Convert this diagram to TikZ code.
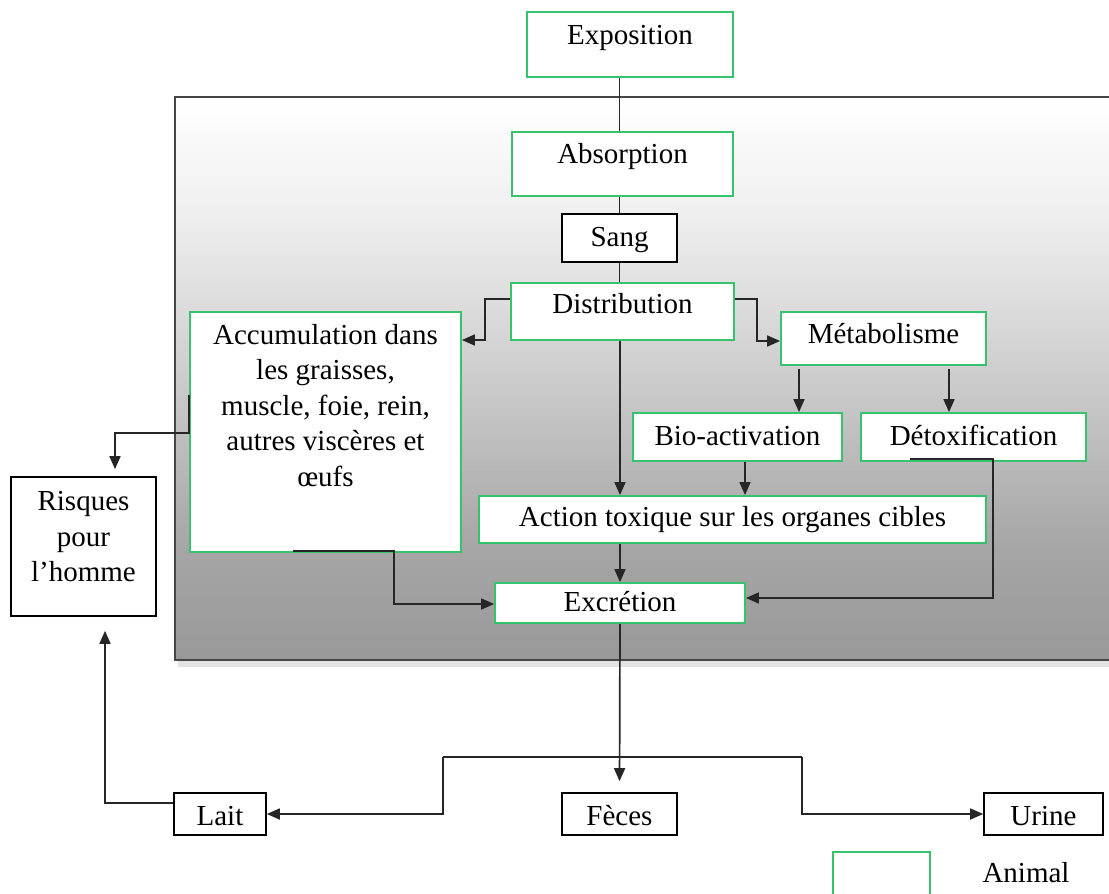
\documentclass[tikz,border=0pt]{standalone}
\usepackage{fontspec}
\setmainfont{Liberation Serif}
\usetikzlibrary{arrows.meta}
\definecolor{bgreen}{RGB}{55,195,110}
\pgfdeclareverticalshading{bgshade}{100bp}{color(0bp)=(gray!80); color(25bp)=(gray!80); color(35bp)=(gray!70); color(55bp)=(gray!30); color(65bp)=(gray!12); color(75bp)=(white); color(100bp)=(white)}
\begin{document}
\begin{tikzpicture}[x=1pt,y=-1pt,
  every node/.style={font=\fontsize{29}{35.5}\selectfont, inner sep=0pt},
  gbox/.style={draw=bgreen, line width=1.8pt, fill=white},
  kbox/.style={draw=black, line width=1.6pt, fill=white},
  ln/.style={draw=black!85, line width=1.7pt},
  arr/.style={-{Triangle[length=13pt,width=11pt]}},
  tb/.style 2 args={text height=#1pt, text depth=#2pt},
]
\useasboundingbox (0,0) rectangle (1109,894);
\clip (0,0) rectangle (1109,894);

% background panel
\fill[gray!22] (178,660) rectangle (1115,667);
\shade[shading=bgshade] (175,97) rectangle (1115,660);
\draw[gray!55!black, line width=1.7pt] (175,97) rectangle (1115,660);

% nodes
\node[gbox, minimum width=206pt, tb={33}{32}] (expo) at (630,44.5) {Exposition};
\node[gbox, minimum width=221pt, tb={31}{33}] (absb) at (622.5,164) {Absorption};
\node[kbox, minimum width=115pt, tb={32}{16}] (sang) at (619.5,238) {Sang};
\node[gbox, minimum width=223pt, tb={30}{27}] (dist) at (622.5,311.5) {Distribution};
\node[gbox, minimum width=205pt, tb={31}{22}] (meta) at (883.5,338.5) {Métabolisme};
\node[gbox, minimum width=209pt, tb={32}{16}] (bio) at (737.5,437) {Bio-activation};
\node[gbox, minimum width=225pt, tb={32}{16}] (detox) at (973.5,437) {Détoxification};
\node[gbox, minimum width=507pt, tb={30}{17}] (act) at (732.5,519.5) {Action toxique sur les organes cibles};
\node[gbox, minimum width=250pt, tb={28}{12}] (exc) at (620,603) {Excrétion};
\node[gbox, minimum width=271pt, minimum height=240pt] (acc) at (325.5,432) {};
\node[anchor=north, align=center] (accT) at (325.5,324) {Accumulation dans\\les graisses,\\muscle, foie, rein,\\autres viscères et\\œufs};
\node[kbox, minimum width=145pt, minimum height=139pt] (risk) at (83.5,546.5) {};
\node[anchor=north, align=center] (riskT) at (83.5,491.5) {Risques\\pour\\l’homme};
\node[kbox, minimum width=92pt, tb={32}{10}] (lait) at (220,814) {Lait};
\node[kbox, minimum width=115pt, tb={32}{10}] (feces) at (619.5,814) {Fèces};
\node[kbox, minimum width=119pt, tb={32}{10}] (urine) at (1043.5,814) {Urine};
\node[gbox, minimum width=97pt, minimum height=50pt] (leg) at (881.5,877) {};
\node[anchor=base] (legT) at (1026,882) {Animal};

% bend coordinates
\coordinate (dl1) at (485,299);
\coordinate (dl2) at (485,340);
\coordinate (dr1) at (757,299);
\coordinate (dr2) at (757,341);
\coordinate (mb) at (799,369);
\coordinate (md) at (949,369);
\coordinate (ba) at (745,459);
\coordinate (dx1) at (910,459);
\coordinate (dx2) at (993,459);
\coordinate (dx3) at (993,598);
\coordinate (ae1) at (293,551);
\coordinate (ae2) at (394,551);
\coordinate (ae3) at (394,604);
\coordinate (ar1) at (189,395);
\coordinate (ar2) at (189,433);
\coordinate (ar3) at (115,433);
\coordinate (br1) at (443,757);
\coordinate (br2) at (802,757);
\coordinate (lr1) at (105,803);

% connectors
\draw[ln] (expo.south -| sang.north) -- (absb.north -| sang.north);
\draw[ln] (absb.south -| sang.north) -- (sang.north);
\draw[ln] (sang.south) -- (dist.north -| sang.south);
\draw[ln,arr] (dist.south -| exc.north) -- (act.north -| exc.north);
\draw[ln,arr] (act.south -| exc.north) -- (exc.north);
\draw[ln,arr] (dist.west |- dl1) -- (dl1) -- (dl2) -- (acc.east |- dl2);
\draw[ln,arr] (dist.east |- dr1) -- (dr1) -- (dr2) -- (meta.west |- dr2);
\draw[ln,arr] (mb) -- (bio.north -| mb);
\draw[ln,arr] (md) -- (detox.north -| md);
\draw[ln,arr] (bio.south -| ba) -- (act.north -| ba);
\draw[ln,arr] (dx1) -- (dx2) -- (dx3) -- (exc.east |- dx3);
\draw[ln,arr] (ae1) -- (ae2) -- (ae3) -- (exc.west |- ae3);
\draw[ln,arr, shorten >=7pt] (ar1) -- (ar2) -- (ar3) -- (risk.north -| ar3);
\draw[ln,arr, shorten >=11pt] (exc.south) -- (feces.north);
\draw[ln] (br1) -- (br2);
\draw[ln,arr] (br1) -- (br1 |- lait.east) -- (lait.east);
\draw[ln,arr] (br2) -- (br2 |- urine.west) -- (urine.west);
\draw[ln,arr, shorten >=14pt] (lait.west |- lr1) -- (lr1) -- (risk.south -| lr1);
\end{tikzpicture}
\end{document}
